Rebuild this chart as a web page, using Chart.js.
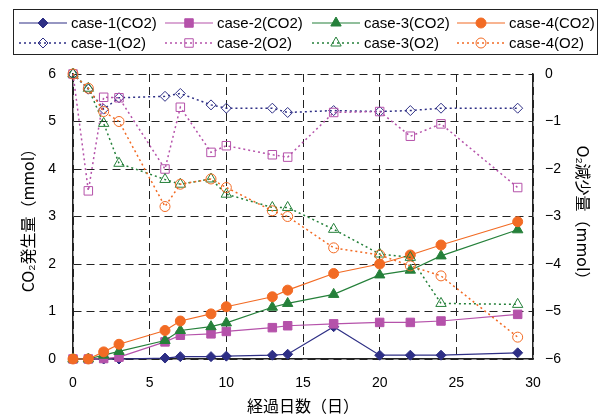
<!DOCTYPE html>
<html>
<head>
<meta charset="utf-8">
<script src="https://cdn.jsdelivr.net/npm/chart.js@4.4.1/dist/chart.umd.min.js"></script>
<style>
  html, body { margin: 0; padding: 0; background: #fff; }
  #wrap { width: 602px; height: 416px; }
</style>
</head>
<body>
<div id="wrap"><canvas id="gasChart"></canvas></div>
<script>
// 経過日数
const days = [0, 1, 2, 3, 6, 7, 9, 10, 13, 14, 17, 20, 22, 24, 29];

// CO2発生量 (mmol)
const co2Case1 = [0, 0, 0, 0, 0.02, 0.05, 0.05, 0.06, 0.08, 0.1, 0.68, 0.08, 0.08, 0.08, 0.13];
const co2Case2 = [0, 0, 0.01, 0.04, 0.36, 0.5, 0.53, 0.58, 0.66, 0.7, 0.74, 0.77, 0.77, 0.8, 0.94];
const co2Case3 = [0, 0, 0.08, 0.16, 0.39, 0.6, 0.68, 0.76, 1.09, 1.17, 1.36, 1.77, 1.87, 2.17, 2.72];
const co2Case4 = [0, 0, 0.15, 0.31, 0.6, 0.8, 0.95, 1.1, 1.31, 1.45, 1.8, 2.0, 2.19, 2.4, 2.89];

// O2減少量 (mmol)
const o2Case1 = [0, -0.32, -0.74, -0.5, -0.47, -0.41, -0.65, -0.72, -0.72, -0.81, -0.77, -0.79, -0.77, -0.72, -0.72];
const o2Case2 = [0, -2.46, -0.49, -0.5, -2.0, -0.7, -1.65, -1.51, -1.7, -1.75, -0.81, -0.79, -1.31, -1.05, -2.39];
const o2Case3 = [0, -0.3, -1.04, -1.88, -2.22, -2.32, -2.21, -2.53, -2.81, -2.81, -3.27, -3.79, -3.86, -4.83, -4.85];
const o2Case4 = [0, -0.3, -0.79, -1.0, -2.79, -2.32, -2.21, -2.39, -2.88, -3.0, -3.66, -3.81, -4.04, -4.25, -5.54];

const caseLabels = ['case-1', 'case-2', 'case-3', 'case-4'];
const caseColors = ['#2e2f85', '#b552aa', '#25803a', '#f26b24'];
const caseMarkers = ['rectRot', 'rect', 'triangle', 'circle'];
const markerSizes = [5, 6, 6, 5];

const toPoints = vals => vals.map((v, i) => ({ x: days[i], y: v }));

const co2Sets = [co2Case1, co2Case2, co2Case3, co2Case4];
const o2Sets = [o2Case1, o2Case2, o2Case3, o2Case4];

const datasets = [];
co2Sets.forEach((vals, i) => {
    datasets.push({
        label: caseLabels[i] + '(CO2)',
        data: toPoints(vals),
        yAxisID: 'y',
        borderColor: caseColors[i],
        backgroundColor: caseColors[i],
        borderWidth: 1.2,
        pointStyle: caseMarkers[i],
        pointRadius: markerSizes[i],
        pointBorderWidth: 1,
        clip: false,
        order: 10 - i
    });
});
o2Sets.forEach((vals, i) => {
    datasets.push({
        label: caseLabels[i] + '(O2)',
        data: toPoints(vals),
        yAxisID: 'y2',
        borderColor: caseColors[i],
        backgroundColor: 'rgba(255,255,255,0)',
        borderWidth: 1.5,
        borderDash: [2, 3],
        pointStyle: caseMarkers[i],
        pointRadius: markerSizes[i],
        pointBorderWidth: 1,
        pointBorderColor: caseColors[i],
        clip: false,
        order: 5 - i
    });
});

// 凡例（Excel風：線＋マーカー）
const legendBox = {
    id: 'legendBox',
    afterDraw(chart) {
        const ctx = chart.ctx;
        ctx.save();
        ctx.strokeStyle = '#222';
        ctx.lineWidth = 1;
        ctx.strokeRect(13.5, 9.5, 584, 45);
        const colX = [19, 165, 312, 457];
        const rowY = [23, 43];
        chart.data.datasets.forEach((ds, idx) => {
            const col = idx % 4;
            const row = Math.floor(idx / 4);
            const x0 = colX[col];
            const y = rowY[row];
            ctx.beginPath();
            ctx.setLineDash(ds.borderDash || []);
            ctx.strokeStyle = ds.borderColor;
            ctx.lineWidth = ds.borderWidth;
            ctx.moveTo(x0, y);
            ctx.lineTo(x0 + 48, y);
            ctx.stroke();
            ctx.setLineDash([]);
            ctx.lineWidth = 1;
            ctx.fillStyle = ds.backgroundColor;
            ctx.strokeStyle = ds.borderColor;
            Chart.helpers.drawPoint(ctx, {
                pointStyle: ds.pointStyle,
                radius: ds.pointRadius,
                borderWidth: 1
            }, x0 + 24, y);
            ctx.fillStyle = '#000';
            ctx.font = '15px "Liberation Sans", sans-serif';
            ctx.textBaseline = 'middle';
            ctx.fillText(ds.label, x0 + 52, y + 1);
        });
        ctx.restore();
    }
};

const tickFont = { family: '"Liberation Sans", sans-serif', size: 14 };
const titleFont = { family: '"Noto Sans CJK JP", sans-serif', size: 16 };

new Chart(document.getElementById('gasChart'), {
    type: 'line',
    data: { datasets: datasets },
    options: {
        responsive: true,
        maintainAspectRatio: false,
        animation: false,
        layout: { padding: { top: 74 } },
        plugins: {
            legend: { display: false },
            tooltip: { enabled: false }
        },
        scales: {
            x: {
                type: 'linear',
                min: 0,
                max: 30,
                ticks: { stepSize: 5, color: '#000', font: tickFont, padding: 16 },
                grid: { color: '#222', drawTicks: false },
                border: { color: '#222', width: 1.5, dash: [8, 5] },
                title: { display: true, text: '経過日数（日）', color: '#000', font: titleFont, padding: 0 },
                afterFit: scale => { scale.height = 57; }
            },
            y: {
                position: 'left',
                min: 0,
                max: 6,
                ticks: { stepSize: 1, color: '#000', font: tickFont, padding: 17 },
                grid: { color: '#222', drawTicks: false },
                border: { color: '#222', width: 1.5, dash: [8, 5] },
                title: { display: true, text: 'CO₂発生量（mmol）', color: '#000', font: titleFont, padding: { top: 18 } },
                afterFit: scale => { scale.width = 73; }
            },
            y2: {
                position: 'right',
                min: -6,
                max: 0,
                ticks: {
                    stepSize: 1, color: '#000', font: tickFont, padding: 12,
                    callback: v => String(v).replace('-', '−')
                },
                grid: { display: false, drawTicks: false },
                border: { color: '#222', width: 1.5 },
                title: { display: true, text: 'O₂減少量（mmol）', color: '#000', font: titleFont, padding: { top: 9 } },
                afterFit: scale => { scale.width = 69; }
            }
        }
    },
    plugins: [legendBox]
});
</script>
</body>
</html>
